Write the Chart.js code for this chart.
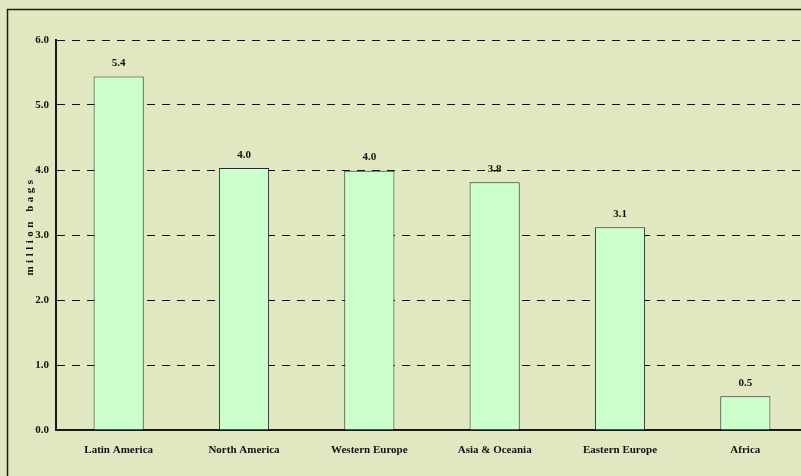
<!DOCTYPE html>
<html>
<head>
<meta charset="utf-8">
<script src="https://cdn.jsdelivr.net/npm/chart.js@4/dist/chart.umd.min.js"></script>
<style>
  html, body { margin: 0; padding: 0; overflow: hidden; background: #e0e8c1; }
  #wrap { position: relative; width: 808px; height: 476px; }
</style>
</head>
<body>
<div id="wrap"><canvas id="c"></canvas></div>
<script>
// Coffee consumption by region, million bags
const regions = ['Latin America', 'North America', 'Western Europe', 'Asia & Oceania', 'Eastern Europe', 'Africa'];
const millionBags = [5.44, 4.03, 3.99, 3.81, 3.12, 0.52];
const yTicks = [0, 1, 2, 3, 4, 5, 6];
const yTitle = 'million bags';

const FONT = 'Liberation Serif, Times New Roman, serif';

// Frame around the whole figure, value labels and the spaced axis title
const decor = {
  id: 'decor',
  beforeDraw(chart) {
    const ctx = chart.ctx;
    ctx.save();
    ctx.fillStyle = '#e0e8c1';
    ctx.fillRect(0, 0, chart.width, chart.height);
    ctx.strokeStyle = '#1a1a1a';
    ctx.lineWidth = 1.5;
    ctx.strokeRect(7.5, 9.5, chart.width + 20, chart.height + 20);
    ctx.restore();
  },
  afterDatasetsDraw(chart) {
    const ctx = chart.ctx;
    const meta = chart.getDatasetMeta(0);
    ctx.save();
    ctx.font = 'bold 11px ' + FONT;
    ctx.fillStyle = '#111';
    ctx.textAlign = 'center';
    ctx.textBaseline = 'middle';
    meta.data.forEach((bar, i) => {
      ctx.fillText(millionBags[i].toFixed(1), bar.x, bar.y - 13);
    });
    // y axis title
    const area = chart.chartArea;
    ctx.translate(30, area.top + (area.bottom - area.top) / 2 - 9);
    ctx.rotate(-Math.PI / 2);
    ctx.letterSpacing = '3.5px';
    ctx.fillText(yTitle, 0, 0);
    ctx.restore();
  }
};

new Chart(document.getElementById('c'), {
  type: 'bar',
  data: {
    labels: regions,
    datasets: [{
      data: millionBags,
      backgroundColor: '#ccffcc',
      borderColor: '#2a2a2a',
      borderWidth: 1,
      categoryPercentage: 1,
      barPercentage: 0.4
    }]
  },
  options: {
    responsive: true,
    maintainAspectRatio: false,
    devicePixelRatio: 1,
    animation: false,
    layout: { padding: { top: 40, left: 0, right: 0, bottom: 0 } },
    plugins: { legend: { display: false }, tooltip: { enabled: false } },
    scales: {
      x: {
        offset: true,
        grid: { display: false, drawTicks: false },
        border: { display: true, color: '#1a1a1a', width: 2 },
        ticks: {
          padding: 14,
          color: '#111',
          maxRotation: 0,
          autoSkip: false,
          font: { family: FONT, size: 11, weight: 'bold' }
        },
        afterFit(scale) { scale.height = 46; }
      },
      y: {
        min: 0,
        max: 6,
        afterBuildTicks(scale) { scale.ticks = yTicks.map(v => ({ value: v })); },
        grid: { color: '#111', lineWidth: 1, drawTicks: false },
        border: { display: true, color: '#1a1a1a', width: 2, dash: [8, 7] },
        ticks: {
          padding: 7,
          color: '#111',
          font: { family: FONT, size: 11, weight: 'bold' },
          callback: v => Number(v).toFixed(1)
        },
        afterFit(scale) { scale.width = 56; }
      }
    }
  },
  plugins: [decor]
});
</script>
</body>
</html>
